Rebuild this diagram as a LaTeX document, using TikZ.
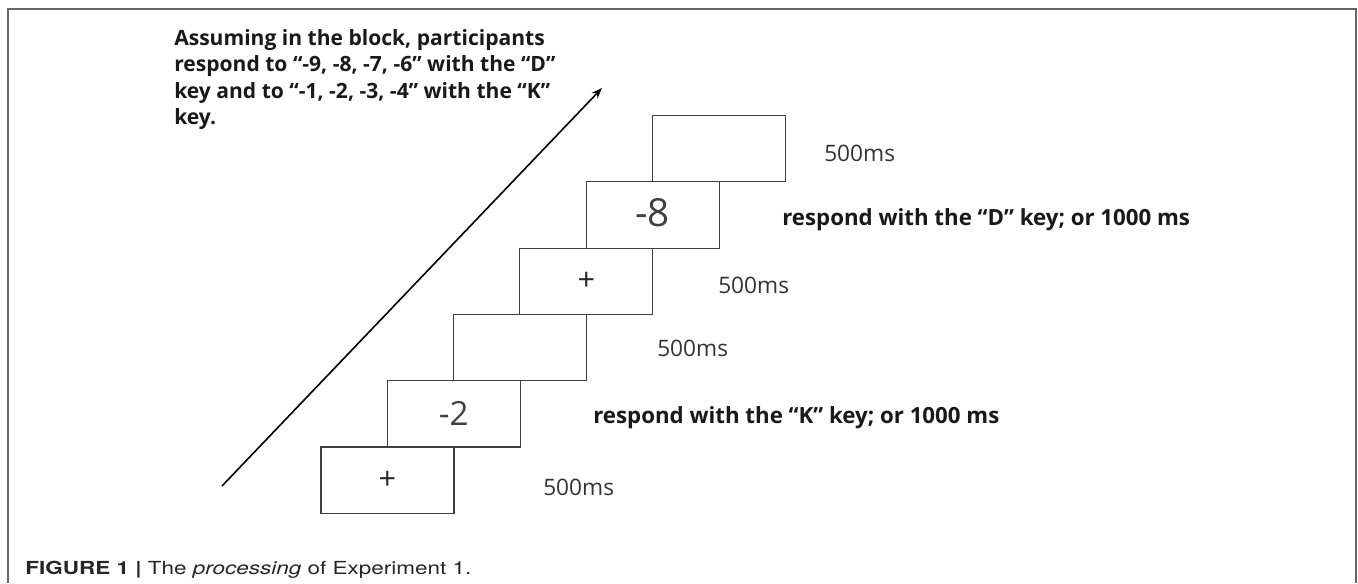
\documentclass[tikz,border=0pt]{standalone}
\usepackage{fontspec}
\setmainfont{Open Sans}
\newfontfamily\capfont{TeX Gyre Heros}
\usetikzlibrary{arrows.meta}
\begin{document}
\begin{tikzpicture}[x=0.75pt,y=-0.75pt,
  frameline/.style={draw=black!60,line width=1.2pt},
  stim/.style={draw=black!75,line width=0.8pt,minimum width=99.75pt,minimum height=49.7pt,inner sep=0pt,outer sep=0pt,anchor=north west},
  bignum/.style={inner sep=0pt,font=\fontsize{29}{32}\selectfont,text=black!75},
  plussign/.style={inner sep=0pt,font=\fontsize{23}{26}\selectfont,text=black!85},
  dur/.style={anchor=west,inner sep=0pt,font=\fontsize{17}{20}\selectfont,text=black!80},
  resp/.style={anchor=west,inner sep=0pt,font=\bfseries\fontsize{16.7}{20}\selectfont,text=black!90},
  note/.style={anchor=north west,inner sep=0pt,align=left,font=\bfseries\fontsize{15.8}{19.9}\selectfont,text=black!90},
  captext/.style={anchor=west,inner sep=0pt,font=\capfont\fontsize{13.5}{16}\selectfont,text=black!85}
]
\useasboundingbox (0,0) rectangle (1358,583);
% frame
\draw[frameline] (8,583) -- (8,9) -- (1356,9) -- (1356,583);
% stimulus boxes
\node[stim] (b1) at (321,447) {};
\node[stim] (b2) at (387.3,380.7) {};
\node[stim] (b3) at (453.6,314.4) {};
\node[stim] (b4) at (519.9,248.1) {};
\node[stim] (b5) at (586.2,181.8) {};
\node[stim] (b6) at (652.5,115.5) {};
\node[plussign] (p1) at (b1.center) {+};
\node[bignum,font=\fontsize{25}{28}\selectfont] (n2) at (b2.center) {-2};
\node[plussign] (p4) at (b4.center) {+};
\node[bignum] (n5) at ([yshift=1.5pt]b5.center) {-8};
% durations
\node[dur] (t1) at (543,487) {500ms};
\node[resp] (t2) at (593,418) {respond with the “K” key; or 1000 ms};
\node[dur] (t3) at (657,348) {500ms};
\node[dur] (t4) at (718,285) {500ms};
\node[resp] (t5) at (782,220) {respond with the “D” key; or 1000 ms};
\node[dur] (t6) at (824,153) {500ms};
% arrow
\coordinate (as) at (222,486);
\coordinate (ae) at (602,88);
\draw[line width=1.2pt,-{Stealth[length=8pt,width=6pt]}] (as) -- (ae);
% note
\node[note] (nt) at (174,29) {Assuming in the block, participants\\respond to “-9, -8, -7, -6” with the “D”\\key and to “-1, -2, -3, -4” with the “K”\\key.};
% caption
\node[captext] (cp) at (25,570) {\scalebox{1.25}[1]{\textbf{FIGURE 1 |} The \textit{processing} of Experiment 1.}};
\end{tikzpicture}
\end{document}
